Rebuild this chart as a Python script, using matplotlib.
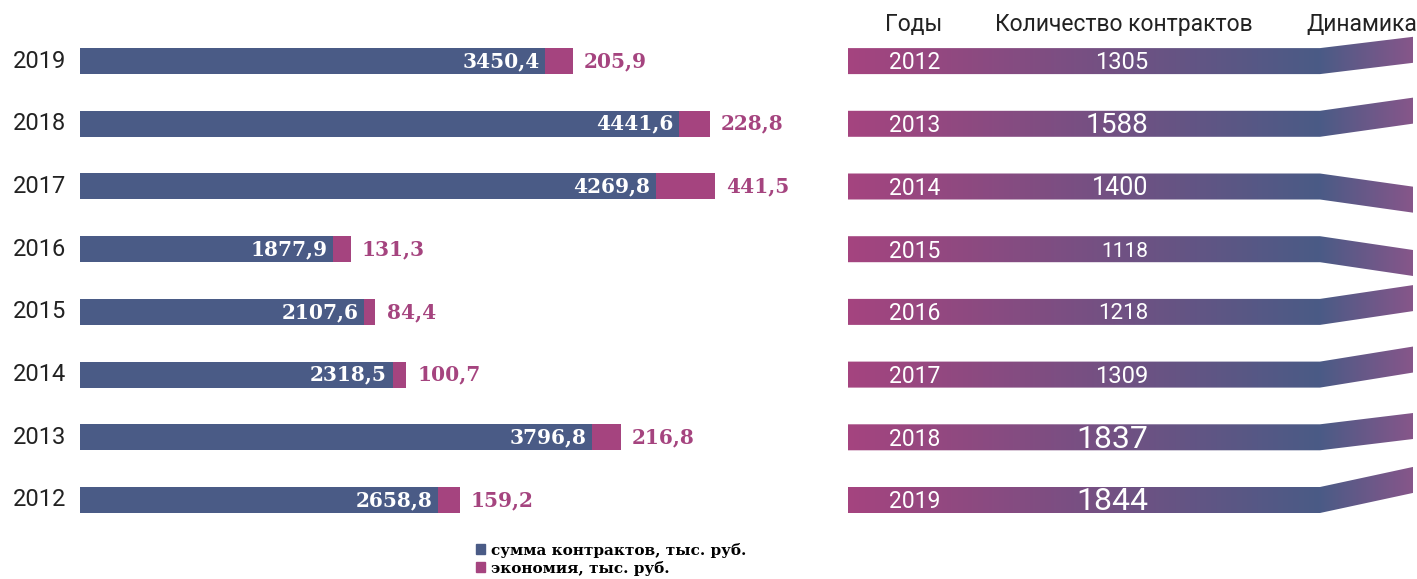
import numpy as np
import matplotlib
matplotlib.use('Agg')
from matplotlib import pyplot as plt
from matplotlib.patches import Polygon, Patch
from matplotlib.colors import LinearSegmentedColormap

years = ['2012', '2013', '2014', '2015', '2016', '2017', '2018', '2019']
contracts_sum = [2658.8, 3796.8, 2318.5, 2107.6, 1877.9, 4269.8, 4441.6, 3450.4]
savings = [159.2, 216.8, 100.7, 84.4, 131.3, 441.5, 228.8, 205.9]
contracts_count = [1305, 1588, 1400, 1118, 1218, 1309, 1837, 1844]
# ribbon offsets in "Динамика" column (row units, up is positive)
dynamics = [0.18, 0.21, -0.21, -0.22, 0.22, 0.24, 0.18, 0.32]

BLUE = '#4a5b86'
PINK = '#a5447f'
W, H = 1417, 579
ROW_PX = 62.7
Y0_PX = 79          # bottom row centre, px from bottom
BAR_H = 26 / ROW_PX

fig = plt.figure(figsize=(W / 100, H / 100), dpi=100)
ylim = (-Y0_PX / ROW_PX, (H - Y0_PX) / ROW_PX)

def fmt(v):
    return ('%.1f' % v).replace('.', ',')

# ---- left panel: stacked bars
ax = fig.add_axes([80 / W, 0, 720 / W, 1])
ax.set_xlim(0, 720 / 0.1348)
ax.set_ylim(*ylim)
ax.axis('off')
rows = np.arange(len(years))
ax.barh(rows, contracts_sum, height=BAR_H, color=BLUE)
ax.barh(rows, savings, left=contracts_sum, height=BAR_H, color=PINK)
bold = dict(family='DejaVu Serif', weight='bold', fontsize=14.5)
for i, (s, e) in enumerate(zip(contracts_sum, savings)):
    ax.annotate(fmt(s), (s, i), xytext=(-4, 0), textcoords='offset points',
                ha='right', va='center', color='white', **bold)
    ax.annotate(fmt(e), (s + e, i), xytext=(8, 0), textcoords='offset points',
                ha='left', va='center', color=PINK, **bold)
    ax.annotate(years[i], (0, i), xytext=(-10, 0), textcoords='offset points',
                ha='right', va='center', color='#222222', fontsize=17,
                family='Roboto', annotation_clip=False)

fig.legend(handles=[Patch(color=BLUE), Patch(color=PINK)],
           labels=['сумма контрактов, тыс. руб.', 'экономия, тыс. руб.'],
           loc='upper left', bbox_to_anchor=(468 / W, 1 - 535 / H), frameon=False,
           handlelength=0.6, handleheight=0.6, handletextpad=0.4, labelspacing=0.2,
           borderpad=0, prop=dict(family='DejaVu Serif', weight='bold', size=11))

# ---- right panel: gradient bars with dynamics ribbons
rx = fig.add_axes([848 / W, 0, (W - 848) / W, 1])
rx.set_xlim(0, W - 848)
rx.set_ylim(*ylim)
rx.axis('off')
bar_end, rib_end = 472, 565
cmap = LinearSegmentedColormap.from_list(
    'g', [(0, PINK), (bar_end / rib_end, BLUE), (1, '#86568a')])
grad = np.linspace(0, 1, 256).reshape(1, -1)
vmin, vmax = min(contracts_count), max(contracts_count)
n = len(years)
for k, (yr, cnt, d) in enumerate(zip(years, contracts_count, dynamics)):
    y = n - 1 - k
    lo, hi = y - BAR_H / 2, y + BAR_H / 2
    poly = Polygon([(0, lo), (bar_end, lo), (rib_end, lo + d), (rib_end, hi + d),
                    (bar_end, hi), (0, hi)], closed=True, fc='none', ec='none')
    rx.add_patch(poly)
    im = rx.imshow(grad, cmap=cmap, aspect='auto',
                   extent=(0, rib_end, lo - 0.5, hi + 0.5), interpolation='bilinear')
    im.set_clip_path(poly)
    rx.text(67, y - 0.03, yr, ha='center', va='center', color='white', fontsize=16.5,
            family='Roboto')
    fs = 15 + (cnt - vmin) / (vmax - vmin) * 8
    rx.text(300, y - 0.03, str(cnt), ha='right', va='center', color='white',
            fontsize=fs, family='Roboto')
rx.set_xlim(0, W - 848)
rx.set_ylim(*ylim)

hy = n - 1 + 37 / ROW_PX
hdr = dict(ha='center', va='center', color='#222222', fontsize=16.5, family='Roboto')
rx.text(66, hy, 'Годы', **hdr)
rx.text(276, hy, 'Количество контрактов', **hdr)
rx.text(W - 848, hy, 'Динамика', ha='right', va='center', color='#222222',
        fontsize=16.5, family='Roboto')

plt.savefig('out.png', dpi=100)
